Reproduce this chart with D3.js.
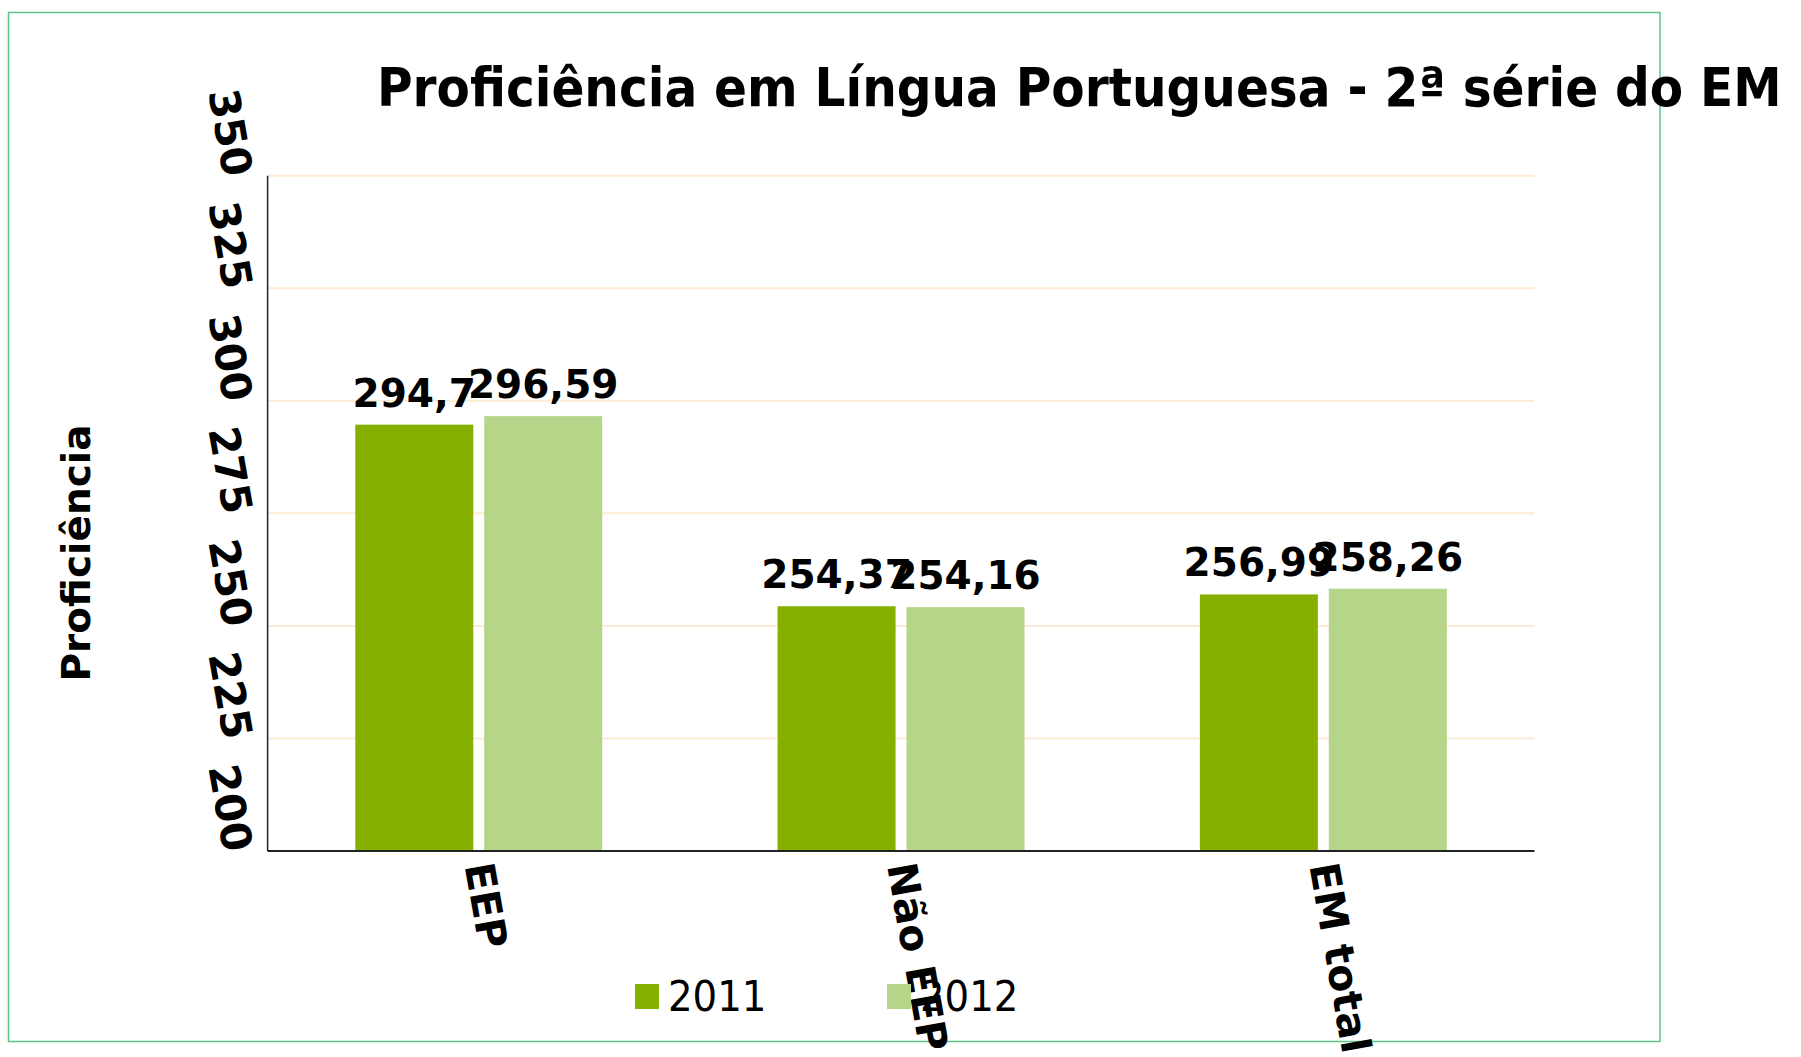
<!DOCTYPE html>
<html>
<head>
<meta charset="utf-8">
<script src="https://cdn.jsdelivr.net/npm/d3@7"></script>
<style>
  body { margin: 0; background: #fff; }
  svg text { font-family: "DejaVu Sans", sans-serif; }
  svg text.cond { font-family: "DejaVu Sans Condensed", "DejaVu Sans", sans-serif; font-stretch: condensed; }
</style>
</head>
<body>
<div id="chart"></div>
<script>
// data
const categories = ["EEP", "Não EEP", "EM total"];
const years = ["2011", "2012"];
const values2011 = [294.7, 254.37, 256.99];
const values2012 = [296.59, 254.16, 258.26];
const labels2011 = ["294,7", "254,37", "256,99"];
const labels2012 = ["296,59", "254,16", "258,26"];
const yTicks = [200, 225, 250, 275, 300, 325, 350];
const colors = ["#85b000", "#b5d589"];

const width = 1801;
const height = 1057;
const margin = { top: 175.7, right: 266.5, bottom: 206, left: 267.6 };

const svg = d3.select("#chart")
    .append("svg")
    .attr("width", width)
    .attr("height", height);

// green frame
svg.append("rect")
    .attr("x", 8.5)
    .attr("y", 12.5)
    .attr("width", 1651.5)
    .attr("height", 1029)
    .attr("fill", "none")
    .attr("stroke", "#5cc38a")
    .attr("stroke-width", 1.5);

const x0 = d3.scaleBand()
    .domain(categories)
    .range([margin.left, width - margin.right])
    .padding(0);

const x1 = d3.scaleBand()
    .domain(years)
    .range([0, x0.bandwidth()])
    .paddingInner(0.085)
    .paddingOuter(0.68);

const y = d3.scaleLinear()
    .domain([200, 350])
    .range([height - margin.bottom, margin.top]);

// gridlines
svg.append("g")
    .selectAll("line")
    .data(yTicks.filter(t => t > 200))
    .join("line")
    .attr("x1", margin.left)
    .attr("x2", width - margin.right)
    .attr("y1", d => y(d))
    .attr("y2", d => y(d))
    .attr("stroke", "#fdebd5")
    .attr("stroke-width", 2);

// bars
const rows = categories.map((c, i) => ({
    cat: c,
    vals: [
        { year: "2011", v: values2011[i], label: labels2011[i] },
        { year: "2012", v: values2012[i], label: labels2012[i] }
    ]
}));

const groups = svg.selectAll(".grp")
    .data(rows)
    .join("g")
    .attr("class", "grp")
    .attr("transform", d => `translate(${x0(d.cat)},0)`);

groups.selectAll("rect")
    .data(d => d.vals)
    .join("rect")
    .attr("x", d => x1(d.year))
    .attr("y", d => y(d.v))
    .attr("width", x1.bandwidth())
    .attr("height", d => y(200) - y(d.v))
    .attr("fill", (d, i) => colors[i]);

groups.selectAll("text")
    .data(d => d.vals)
    .join("text")
    .attr("x", d => x1(d.year) + x1.bandwidth() / 2)
    .attr("y", d => y(d.v) - 18)
    .attr("text-anchor", "middle")
    .style("font-size", "39px")
    .style("font-weight", "bold")
    .text(d => d.label);

// axes lines
svg.append("line")
    .attr("x1", margin.left).attr("x2", margin.left)
    .attr("y1", y(350)).attr("y2", y(200))
    .attr("stroke", "#222").attr("stroke-width", 1.5);
svg.append("line")
    .attr("x1", margin.left).attr("x2", width - margin.right)
    .attr("y1", y(200)).attr("y2", y(200))
    .attr("stroke", "#222").attr("stroke-width", 2);

// y tick labels, rotated
svg.append("g")
    .selectAll("text")
    .data(yTicks)
    .join("text")
    .attr("transform", d => `translate(238,${y(d)}) rotate(80)`)
    .attr("text-anchor", "end")
    .attr("dy", "0.35em")
    .style("font-size", "42px")
    .style("font-weight", "bold")
    .text(d => d);

// category labels
svg.append("g")
    .selectAll("text")
    .data(categories)
    .join("text")
    .attr("transform", d => `translate(${x0(d) + x0.bandwidth() / 2},${y(200) + 12}) rotate(80)`)
    .attr("text-anchor", "start")
    .attr("dy", "0.35em")
    .style("font-size", "41px")
    .style("font-weight", "bold")
    .text(d => d);

// y title
svg.append("text")
    .attr("transform", "translate(76,553) rotate(-90)")
    .attr("text-anchor", "middle")
    .attr("dy", "0.35em")
    .style("font-size", "39px")
    .style("font-weight", "bold")
    .text("Proficiência");

// title
svg.append("text")
    .attr("class", "cond")
    .attr("x", 377)
    .attr("y", 106)
    .style("font-size", "54px")
    .style("font-weight", "bold")
    .text("Proficiência em Língua Portuguesa - 2ª série do EM");

// legend
const legend = svg.append("g")
    .selectAll("g")
    .data(years)
    .join("g")
    .attr("transform", (d, i) => `translate(${635 + i * 252},984)`);
legend.append("rect")
    .attr("width", 24)
    .attr("height", 25)
    .attr("fill", (d, i) => colors[i]);
legend.append("text")
    .attr("class", "cond")
    .attr("x", 33)
    .attr("y", 27)
    .style("font-size", "43px")
    .text(d => d);
</script>
</body>
</html>
